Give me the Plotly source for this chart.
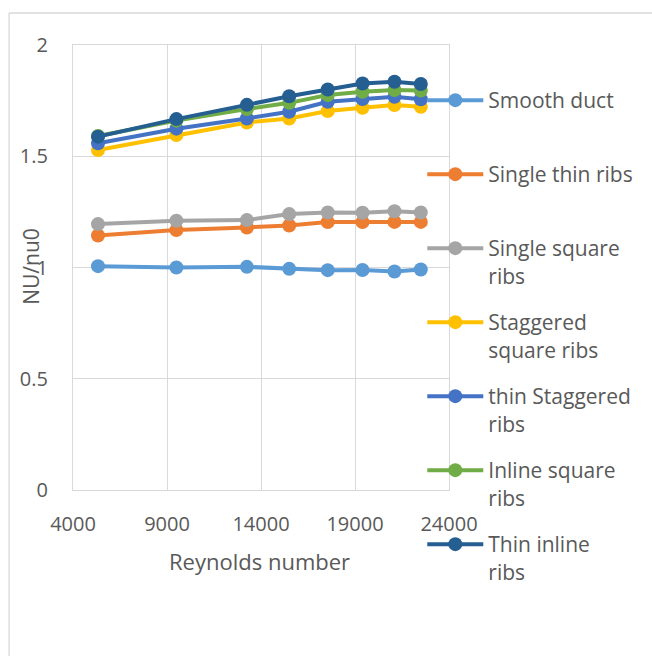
import plotly.graph_objects as go

# Reynolds numbers of the test runs
reynolds = [5330, 9500, 13250, 15500, 17550, 19400, 21100, 22500]

# Nusselt number ratio Nu/Nu0 for each duct configuration
smooth_duct = [1.006, 1.000, 1.003, 0.994, 0.988, 0.989, 0.982, 0.991]
single_thin_ribs = [1.144, 1.168, 1.180, 1.189, 1.204, 1.204, 1.205, 1.205]
single_square_ribs = [1.195, 1.210, 1.213, 1.240, 1.247, 1.246, 1.253, 1.247]
staggered_square_ribs = [1.528, 1.595, 1.652, 1.670, 1.703, 1.718, 1.730, 1.722]
thin_staggered_ribs = [1.558, 1.624, 1.670, 1.700, 1.745, 1.757, 1.767, 1.756]
inline_square_ribs = [1.591, 1.660, 1.712, 1.740, 1.775, 1.790, 1.798, 1.795]
thin_inline_ribs = [1.588, 1.667, 1.731, 1.770, 1.800, 1.827, 1.835, 1.825]

series_names = [
    "Smooth duct",
    "Single thin ribs",
    "Single square<br>ribs",
    "Staggered<br>square ribs",
    "thin Staggered<br>ribs",
    "Inline square<br>ribs",
    "Thin inline<br>ribs",
]
series_values = [
    smooth_duct,
    single_thin_ribs,
    single_square_ribs,
    staggered_square_ribs,
    thin_staggered_ribs,
    inline_square_ribs,
    thin_inline_ribs,
]
series_colors = ["#5B9BD5", "#ED7D31", "#A5A5A5", "#FFC000", "#4472C4", "#70AD47", "#255E91"]

x_ticks = [4000, 9000, 14000, 19000, 24000]
y_ticks = [0, 0.5, 1, 1.5, 2]

TEXT = "#595959"
GRID = "#D9D9D9"
FONT = "Open Sans"

fig = go.Figure()
for i, (name, vals, col) in enumerate(zip(series_names, series_values, series_colors)):
    # single-line names get an empty second line so every legend entry is equally tall
    label = name if "<br>" in name else name + "<br>&nbsp;"
    fig.add_trace(go.Scatter(
        x=reynolds, y=vals, name=label, mode="lines+markers",
        line=dict(color=col, width=4),
        marker=dict(color=col, size=14),
        legendgroup=f"g{i}",
        # the key is split over two legend boxes stacked in one column
        legend="legend" if i < 4 else "legend2",
    ))

legend_style = dict(
    xanchor="left", yanchor="top", x=0.929,
    font=dict(family=FONT, size=21, color=TEXT),
    valign="top", itemwidth=56, tracegroupgap=16.4,
    bgcolor="rgba(0,0,0,0)",
)

fig.update_layout(
    width=652, height=656,
    margin=dict(l=73, r=203, t=45, b=166),
    paper_bgcolor="white", plot_bgcolor="white",
    font=dict(family=FONT, color=TEXT, size=20),
    showlegend=True,
    legend=dict(y=0.9214, **legend_style),
    legend2=dict(y=0.2562, **legend_style),
    xaxis=dict(
        range=[4000, 24000], tickvals=x_ticks, ticktext=[str(v) for v in x_ticks],
        showgrid=True, gridcolor=GRID, gridwidth=1.3,
        showline=True, linecolor=GRID, linewidth=1.3, mirror=True,
        zeroline=False, ticks="", ticklabelstandoff=16,
        tickfont=dict(size=20, color=TEXT),
    ),
    yaxis=dict(
        range=[0, 2], tickvals=y_ticks, ticktext=["0", "0.5", "1", "1.5", "2"],
        showgrid=True, gridcolor=GRID, gridwidth=1.3,
        showline=True, linecolor=GRID, linewidth=1.3, mirror=True,
        zeroline=False, ticks="", ticklabelstandoff=20,
        tickfont=dict(size=20, color=TEXT),
    ),
    annotations=[
        dict(text="Reynolds number", xref="paper", yref="paper",
             x=0.497, y=-0.16, xanchor="center", yanchor="middle",
             showarrow=False, font=dict(size=22, color=TEXT)),
        dict(text="NU/nu0", xref="paper", yref="paper",
             x=-0.114, y=0.502, xanchor="center", yanchor="middle",
             textangle=-90, showarrow=False, font=dict(size=21, color=TEXT)),
    ],
    shapes=[
        # outer chart frame, running off the right and bottom edges
        dict(type="line", xref="paper", yref="paper", x0=-0.170, x1=2.0,
             y0=1.0719, y1=1.0719, line=dict(color=GRID, width=1.3)),
        dict(type="line", xref="paper", yref="paper", x0=-0.170, x1=-0.170,
             y0=1.0719, y1=-0.6, line=dict(color=GRID, width=1.3)),
    ],
)

fig.write_html("out.html")
